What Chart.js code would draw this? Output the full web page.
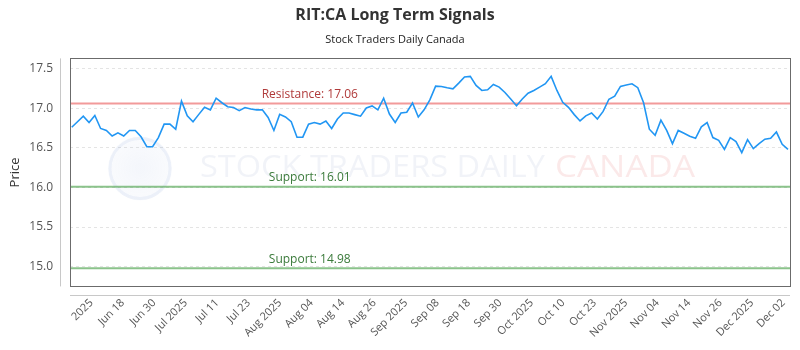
<!DOCTYPE html>
<html>
<head>
<meta charset="utf-8">
<script src="https://cdn.jsdelivr.net/npm/chart.js@4.4.1/dist/chart.umd.min.js"></script>
<style>
  body { margin: 0; background: #fff; }
  #wrap { width: 800px; height: 350px; }
</style>
</head>
<body>
<div id="wrap"><canvas id="grafico" width="800" height="350"></canvas></div>
<script>
// datos del grafico
const tickLabels = ['2025', 'Jun 18', 'Jun 30', 'Jul 2025', 'Jul 11', 'Jul 23', 'Aug 2025', 'Aug 04', 'Aug 14', 'Aug 26',
  'Sep 2025', 'Sep 08', 'Sep 18', 'Sep 30', 'Oct 2025', 'Oct 10', 'Oct 23', 'Nov 2025', 'Nov 04', 'Nov 14',
  'Nov 26', 'Dec 2025', 'Dec 02'];

const prices = [
  16.76, 16.83, 16.90, 16.82, 16.91, 16.745, 16.72, 16.65, 16.69, 16.65,
  16.72, 16.72, 16.64, 16.515, 16.515, 16.63, 16.80, 16.80, 16.735, 17.09,
  16.906, 16.83, 16.923, 17.012, 16.98, 17.127, 17.07, 17.02, 17.01, 16.97,
  17.01, 16.99, 16.98, 16.98, 16.885, 16.72, 16.923, 16.89, 16.83, 16.635,
  16.635, 16.80, 16.82, 16.80, 16.84, 16.745, 16.864, 16.94, 16.94, 16.92,
  16.90, 17.004, 17.03, 16.98, 17.127, 16.927, 16.82, 16.94, 16.95, 17.067,
  16.89, 16.98, 17.106, 17.28, 17.276, 17.26, 17.246, 17.318, 17.395, 17.403,
  17.288, 17.225, 17.233, 17.30, 17.267, 17.20, 17.118, 17.033, 17.118, 17.19,
  17.225, 17.267, 17.31, 17.403, 17.225, 17.076, 17.012, 16.92, 16.84, 16.905,
  16.94, 16.864, 16.96, 17.114, 17.152, 17.276, 17.293, 17.31, 17.26, 17.07,
  16.736, 16.66, 16.85, 16.72, 16.553, 16.72, 16.685, 16.647, 16.62, 16.766,
  16.82, 16.63, 16.595, 16.48, 16.63, 16.58, 16.44, 16.604, 16.49, 16.553,
  16.61, 16.62, 16.70, 16.545, 16.48
];

const resistance = [17.06];
const supports = [16.01, 14.98];

const FONT = "'Open Sans', 'DejaVu Sans', sans-serif";

// marco, lineas de soporte/resistencia y marca de agua
const extras = {
  id: 'extras',
  beforeDatasetsDraw(chart) {
    const { ctx, chartArea: a, scales: { y } } = chart;
    ctx.save();
    // marca de agua
    const cy = (a.top + a.bottom) / 2 - 4;
    const cx = a.left + 70;
    const g = ctx.createRadialGradient(cx, cy, 4, cx, cy, 32);
    g.addColorStop(0, 'rgba(120,150,210,0.08)');
    g.addColorStop(1, 'rgba(120,150,210,0.04)');
    ctx.fillStyle = g;
    ctx.beginPath(); ctx.arc(cx, cy, 32, 0, Math.PI * 2); ctx.fill();
    ctx.strokeStyle = 'rgba(120,150,210,0.10)';
    ctx.lineWidth = 3;
    ctx.beginPath(); ctx.arc(cx, cy, 30, 0, Math.PI * 2); ctx.stroke();
    ctx.textBaseline = 'middle';
    ctx.font = '30px ' + FONT;
    const t1 = 'STOCK TRADERS DAILY';
    const w1 = ctx.measureText(t1).width;
    ctx.save();
    ctx.translate(a.left + 130, cy);
    ctx.scale(345 / w1, 1.05);
    ctx.fillStyle = 'rgba(150,165,200,0.13)';
    ctx.fillText(t1, 0, 0);
    ctx.restore();
    const t2 = 'CANADA';
    const w2 = ctx.measureText(t2).width;
    ctx.save();
    ctx.translate(a.left + 485, cy);
    ctx.scale(140 / w2, 1.05);
    ctx.fillStyle = 'rgba(230,110,110,0.15)';
    ctx.fillText(t2, 0, 0);
    ctx.restore();

    // lineas de niveles
    ctx.lineWidth = 2;
    resistance.forEach(v => {
      ctx.strokeStyle = 'rgba(238,120,120,0.75)';
      ctx.beginPath(); ctx.moveTo(a.left, y.getPixelForValue(v)); ctx.lineTo(a.right, y.getPixelForValue(v)); ctx.stroke();
    });
    supports.forEach(v => {
      ctx.strokeStyle = 'rgba(90,170,90,0.7)';
      ctx.beginPath(); ctx.moveTo(a.left, y.getPixelForValue(v)); ctx.lineTo(a.right, y.getPixelForValue(v)); ctx.stroke();
    });
    ctx.restore();
  },
  afterDraw(chart) {
    const { ctx, chartArea: a, scales: { y } } = chart;
    ctx.save();
    const lx = a.left + (a.right - a.left) * 0.333;
    ctx.font = '12px ' + FONT;
    ctx.textAlign = 'center';
    ctx.textBaseline = 'bottom';
    resistance.forEach(v => {
      ctx.fillStyle = '#b03a3a';
      ctx.fillText('Resistance: ' + v.toFixed(2), lx, y.getPixelForValue(v) - 3);
    });
    supports.forEach(v => {
      ctx.fillStyle = '#3a7a3a';
      ctx.fillText('Support: ' + v.toFixed(2), lx, y.getPixelForValue(v) - 3);
    });
    // caja del area
    ctx.strokeStyle = '#6b6b6b';
    ctx.lineWidth = 1;
    ctx.strokeRect(Math.round(a.left) + 0.5, Math.round(a.top) + 0.5, Math.round(a.right - a.left), Math.round(a.bottom - a.top));
    // ejes separados
    ctx.strokeStyle = '#c8c8c8';
    ctx.beginPath();
    ctx.moveTo(Math.round(a.left) - 9.5, a.top);
    ctx.lineTo(Math.round(a.left) - 9.5, a.bottom);
    ctx.moveTo(a.left, Math.round(a.bottom) + 9.5);
    ctx.lineTo(a.right, Math.round(a.bottom) + 9.5);
    ctx.stroke();
    ctx.restore();
  }
};

const ctx = document.getElementById('grafico').getContext('2d');
new Chart(ctx, {
  type: 'line',
  data: {
    datasets: [{
      data: prices.map((p, i) => ({ x: i, y: p })),
      borderColor: '#2196f3',
      borderWidth: 1.6,
      pointRadius: 0,
      tension: 0,
      fill: false
    }]
  },
  options: {
    responsive: false,
    animation: false,
    layout: { padding: { left: 0, right: 10, top: 0, bottom: 0 } },
    plugins: {
      legend: { display: false },
      tooltip: { enabled: false },
      title: {
        display: true,
        text: 'RIT:CA Long Term Signals',
        color: '#333',
        font: { family: FONT, size: 16, weight: 'bold' },
        padding: { top: 6, bottom: 4 }
      },
      subtitle: {
        display: true,
        text: 'Stock Traders Daily Canada',
        color: '#222',
        font: { family: FONT, size: 11 },
        padding: { top: 4, bottom: 12 }
      }
    },
    scales: {
      x: {
        type: 'linear',
        min: -0.3,
        max: 124.35,
        afterBuildTicks: scale => {
          const first = 3.4, last = 123.2;
          const step = (last - first) / (tickLabels.length - 1);
          scale.ticks = tickLabels.map((_, i) => ({ value: first + i * step }));
        },
        afterFit: scale => {
          scale.paddingLeft = 0;
          scale.paddingRight = 0;
        },
        ticks: {
          autoSkip: false,
          minRotation: 45,
          maxRotation: 45,
          padding: 10,
          color: '#555',
          font: { family: FONT, size: 11 },
          callback: (v, i) => tickLabels[i]
        },
        grid: { display: false, drawTicks: false },
        border: { display: false }
      },
      y: {
        min: 14.75,
        max: 17.63,
        afterFit: scale => { scale.width = 70; },
        ticks: {
          stepSize: 0.5,
          includeBounds: false,
          padding: 17,
          color: '#555',
          font: { family: FONT, size: 12 },
          callback: v => v.toFixed(1)
        },
        grid: { color: '#e4e4e4', drawTicks: false },
        border: { display: false, dash: [3, 3] },
        title: {
          display: true,
          text: 'Price',
          color: '#333',
          font: { family: FONT, size: 13 },
          padding: { top: 7, bottom: 4 }
        }
      }
    }
  },
  plugins: [extras]
});
</script>
</body>
</html>
